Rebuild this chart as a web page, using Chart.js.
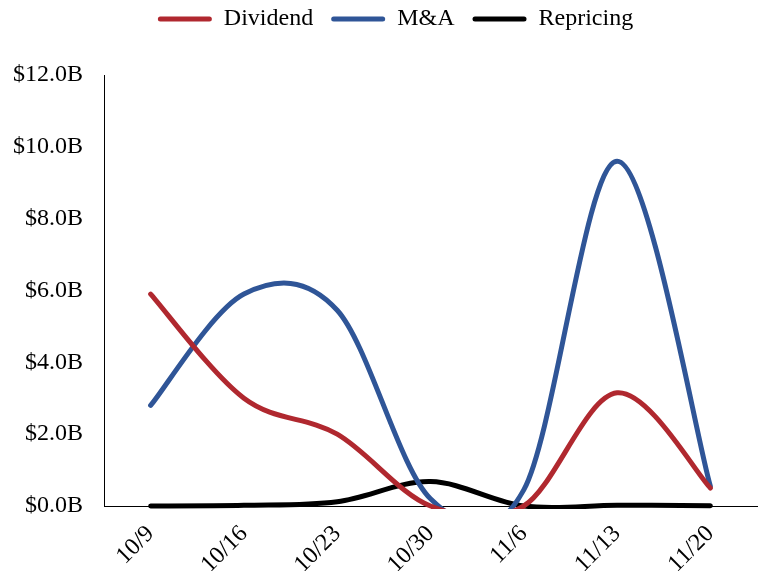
<!DOCTYPE html>
<html>
<head>
<meta charset="utf-8">
<script src="https://cdn.jsdelivr.net/npm/chart.js@4/dist/chart.umd.min.js"></script>
<style>
html,body{margin:0;padding:0;background:#fff;}
#wrap{width:761px;height:571px;}
</style>
</head>
<body>
<div id="wrap"><canvas id="c" width="761" height="571"></canvas></div>
<script>
const categories = ["10/9","10/16","10/23","10/30","11/6","11/13","11/20"];
const dividend = [5.9, 3.0, 2.0, 0.0, 0.0, 3.15, 0.5];
const mna = [2.8, 5.9, 5.45, 0.2, 0.45, 9.6, 0.55];
const repricing = [0.0, 0.02, 0.12, 0.68, 0.0, 0.02, 0.01];
const yTicks = [0, 2, 4, 6, 8, 10, 12];

const FONT = "'Liberation Serif', 'Times New Roman', serif";
const red = "#B0282F", blue = "#2F5597", black = "#000000";

function ds(label, data, color){
  return {label, data, borderColor: color, backgroundColor: color, borderWidth: 5,
    pointRadius: 0, tension: 0.4, fill: false,
    clip: {left: 6, right: 6, top: 6, bottom: 3}, borderCapStyle: 'round'};
}

// Spreadsheet-style (uniform Catmull-Rom) smoothing of the library's own points
const catmullRom = {
  id: 'catmullRom',
  afterDatasetsUpdate(chart){
    chart.data.datasets.forEach((d, di) => {
      const meta = chart.getDatasetMeta(di);
      const pts = meta.data;
      const n = pts.length;
      for (let i = 0; i < n; i++) {
        const p = pts[i];
        const prev = pts[Math.max(i - 1, 0)];
        const next = pts[Math.min(i + 1, n - 1)];
        const tx = (next.x - prev.x) / 6, ty = (next.y - prev.y) / 6;
        p.cp1x = p.x - tx; p.cp1y = p.y - ty;
        p.cp2x = p.x + tx; p.cp2y = p.y + ty;
      }
      if (meta.dataset) meta.dataset._pointsUpdated = true;
    });
  }
};

const legendSpace = {
  id: 'legendSpace',
  beforeInit(chart){
    const lg = chart.legend;
    const fit = lg.fit;
    lg.fit = function(){ fit.call(this); this.height = 86; };
  },
  afterLayout(chart){
    const lg = chart.legend;
    lg.left += 17; lg.right += 17;
  }
};

new Chart(document.getElementById('c'), {
  type: 'line',
  data: {labels: categories, datasets: [ds('Dividend', dividend, red), ds('M&A', mna, blue), ds('Repricing', repricing, black)]},
  plugins: [catmullRom, legendSpace],
  options: {
    responsive: false, animation: false, devicePixelRatio: 1,
    layout: {padding: {left: 0, right: 4, top: -11, bottom: 0}},
    elements: {line: {capBezierPoints: false}},
    plugins: {
      tooltip: {enabled: false},
      legend: {
        position: 'top',
        labels: {
          font: {family: FONT, size: 24}, color: '#000',
          boxWidth: 54, boxHeight: 5, padding: 18,
          useBorderRadius: true, borderRadius: 2.5,
          generateLabels(chart){
            return chart.data.datasets.map((d,i)=>({text: d.label, fillStyle: d.borderColor, strokeStyle: d.borderColor, lineWidth: 0, datasetIndex: i, fontColor: '#000', borderRadius: 2.5}));
          }
        }
      }
    },
    scales: {
      x: {
        type: 'category', offset: true,
        grid: {display: false, drawTicks: false},
        border: {display: true, color: '#000', width: 1},
        ticks: {font: {family: FONT, size: 24}, color: '#000', maxRotation: 45, minRotation: 45, padding: 14},
        afterFit(axis){ axis.paddingLeft = 0; axis.paddingRight = 0; axis.height = 65; }
      },
      y: {
        min: 0, max: 12,
        afterBuildTicks(axis){ axis.ticks = yTicks.map(v=>({value: v})); },
        grid: {display: false, drawTicks: false},
        border: {display: true, color: '#000', width: 1},
        ticks: {font: {family: FONT, size: 24}, color: '#000', padding: 21,
          callback: v => '$' + Number(v).toFixed(1) + 'B'},
        afterFit(axis){ axis.width = 104; axis.paddingTop = 0; axis.paddingBottom = 0; }
      }
    }
  }
});
</script>
</body>
</html>
